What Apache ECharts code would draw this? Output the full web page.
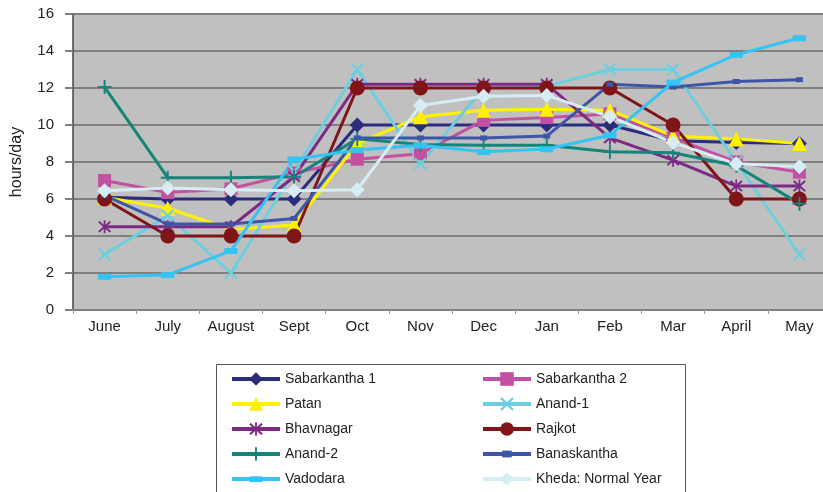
<!DOCTYPE html>
<html>
<head>
<meta charset="utf-8">
<script src="https://cdn.jsdelivr.net/npm/echarts@6/dist/echarts.min.js"></script>
<style>
html,body{margin:0;padding:0;background:#fff;}
#chart{width:823px;height:492px;}
</style>
</head>
<body>
<div id="chart"></div>
<script>
const months = ['June','July','August','Sept','Oct','Nov','Dec','Jan','Feb','Mar','April','May'];
const yTicks = [0,2,4,6,8,10,12,14,16];

const sabarkantha1 = [6.1, 6, 6, 6, 10, 10, 10, 10, 10, 9.15, 9.05, 9.0];
const sabarkantha2 = [7.0, 6.35, 6.55, 7.4, 8.15, 8.45, 10.25, 10.4, 10.6, 9.3, 8.0, 7.45];
const patan        = [6.1, 5.5, 4.35, 4.6, 9.0, 10.45, 10.8, 10.85, 10.8, 9.4, 9.25, 9.0];
const anand1       = [3.0, 5.1, 2.0, 7.5, 13.0, 7.9, 12.0, 12.1, 13.0, 13.0, 8.0, 3.0];
const bhavnagar    = [4.5, 4.5, 4.5, 7.2, 12.2, 12.2, 12.2, 12.2, 9.3, 8.1, 6.7, 6.7];
const rajkot       = [6, 4, 4, 4, 12, 12, 12, 12, 12, 10, 6, 6];
const anand2       = [12.05, 7.15, 7.15, 7.2, 9.25, 8.95, 8.9, 8.9, 8.55, 8.5, 7.8, 5.75];
const banaskantha  = [6.2, 4.65, 4.65, 4.95, 9.3, 9.3, 9.3, 9.4, 12.2, 12.05, 12.35, 12.45];
const vadodara     = [1.8, 1.9, 3.2, 8.15, 8.65, 8.9, 8.55, 8.7, 9.45, 12.3, 13.8, 14.7];
const kheda        = [6.45, 6.6, 6.5, 6.45, 6.5, 11.05, 11.55, 11.6, 10.45, 9.05, 7.9, 7.75];

const X_PATH = 'path://M0,1.2 L1.2,0 L5,3.8 L8.8,0 L10,1.2 L6.2,5 L10,8.8 L8.8,10 L5,6.2 L1.2,10 L0,8.8 L3.8,5 Z';
const PLUS_PATH = 'path://M4.3,0 L5.7,0 L5.7,4.3 L10,4.3 L10,5.7 L5.7,5.7 L5.7,10 L4.3,10 L4.3,5.7 L0,5.7 L0,4.3 L4.3,4.3 Z';
const STAR_PATH = 'path://M0.6,1.6 L1.6,0.6 L5,4 L8.4,0.6 L9.4,1.6 L6,5 L9.4,8.4 L8.4,9.4 L5,6 L1.6,9.4 L0.6,8.4 L4,5 Z M4.4,0 L5.6,0 L5.6,10 L4.4,10 Z';
const SMALL_RECT = 'path://M0,0 M10,10 M1.5,2.5 L8.5,2.5 L8.5,7.5 L1.5,7.5 Z';
const WIDE_RECT = 'path://M0,0 M10,10 M0.3,3 L9.7,3 L9.7,7.3 L0.3,7.3 Z';

const seriesDefs = [
  {name:'Sabarkantha 1', data:sabarkantha1, color:'#2B2C7C', symbol:'diamond', size:15},
  {name:'Sabarkantha 2', data:sabarkantha2, color:'#C251A1', symbol:'rect', size:13},
  {name:'Patan', data:patan, color:'#FFF200', symbol:'triangle', size:15},
  {name:'Anand-1', data:anand1, color:'#6DCEE0', symbol:X_PATH, size:13},
  {name:'Bhavnagar', data:bhavnagar, color:'#7E2A84', symbol:STAR_PATH, size:13},
  {name:'Rajkot', data:rajkot, color:'#7F1518', symbol:'circle', size:15},
  {name:'Anand-2', data:anand2, color:'#13857B', symbol:PLUS_PATH, size:14},
  {name:'Banaskantha', data:banaskantha, color:'#3D56A8', symbol:SMALL_RECT, size:10},
  {name:'Vadodara', data:vadodara, color:'#35C4F2', symbol:WIDE_RECT, size:14},
  {name:'Kheda: Normal Year', data:kheda, color:'#D5EDF3', symbol:'diamond', size:15}
];

const FONT = '"Liberation Sans", Arial, sans-serif';

const legendBase = {
  orient: 'vertical', top: 372, z: 10, height: 160, padding: 0,
  itemWidth: 48, itemHeight: 17, itemGap: 11,
  lineStyle: {width: 4},
  textStyle: {color: '#222', fontSize: 14, fontFamily: FONT},
  selectedMode: false
};

const chart = echarts.init(document.getElementById('chart'), null, {renderer:'canvas'});
const option = {
  animation: false,
  backgroundColor: '#ffffff',
  textStyle: {fontFamily: FONT},
  grid: {
    left: 73, top: 14, right: -8, bottom: 182,
    outerBoundsMode: 'none', containLabel: false,
    show: true, backgroundColor: '#C0C0C0', borderWidth: 0
  },
  xAxis: {
    type: 'category',
    data: months,
    boundaryGap: true,
    axisLine: {show: true, lineStyle: {color: '#808080', width: 2}},
    axisTick: {show: true, length: 4, lineStyle: {color: '#999', width: 1}},
    axisLabel: {color: '#222', fontSize: 15, fontFamily: FONT, margin: 9, interval: 0},
    splitLine: {show: false}
  },
  yAxis: {
    type: 'value',
    min: yTicks[0], max: yTicks[yTicks.length-1], interval: 2,
    name: 'hours/day',
    nameLocation: 'middle',
    nameGap: 48,
    nameRotate: 90,
    nameTextStyle: {color: '#222', fontSize: 16, fontFamily: FONT},
    axisLine: {show: true, lineStyle: {color: '#444', width: 1.5}},
    axisTick: {show: true, inside: false, length: 8, lineStyle: {color: '#808080', width: 2}},
    axisLabel: {color: '#222', fontSize: 15, fontFamily: FONT, margin: 19},
    splitLine: {show: true, lineStyle: {color: '#808080', width: 2}}
  },
  graphic: [{
    type: 'rect', z: 0,
    shape: {x: 216.5, y: 364.5, width: 469, height: 140},
    style: {fill: '#ffffff', stroke: '#555', lineWidth: 1}
  }],
  legend: [
    Object.assign({}, legendBase, {left: 230, data: ['Sabarkantha 1','Patan','Bhavnagar','Anand-2','Vadodara']}),
    Object.assign({}, legendBase, {left: 481, data: ['Sabarkantha 2','Anand-1','Rajkot','Banaskantha','Kheda: Normal Year']})
  ],
  series: seriesDefs.map(d => ({
    name: d.name,
    type: 'line',
    data: d.data,
    symbol: d.symbol,
    symbolSize: d.size,
    showAllSymbol: true,
    color: d.color,
    lineStyle: {color: d.color, width: 3},
    itemStyle: {color: d.color, borderWidth: 0},
    emphasis: {disabled: true}
  }))
};
chart.setOption(option);
</script>
</body>
</html>
